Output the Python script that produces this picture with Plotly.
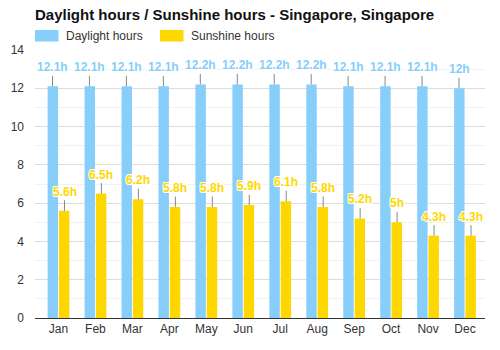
import plotly.graph_objects as go

months = ["Jan", "Feb", "Mar", "Apr", "May", "Jun", "Jul", "Aug", "Sep", "Oct", "Nov", "Dec"]
daylight = [12.1, 12.1, 12.1, 12.1, 12.2, 12.2, 12.2, 12.2, 12.1, 12.1, 12.1, 12.0]
sunshine = [5.6, 6.5, 6.2, 5.8, 5.8, 5.9, 6.1, 5.8, 5.2, 5.0, 4.3, 4.3]
y_ticks = [0, 2, 4, 6, 8, 10, 12, 14]

BLUE = "#87CEFA"
GOLD = "#FFD700"
FONT = "Arial, Liberation Sans, sans-serif"
SHADOW = "1px 1px 0 white, -1px -1px 0 white, 1px -1px 0 white, -1px 1px 0 white, 0 1px 0 white, 0 -1px 0 white, 1px 0 0 white, -1px 0 0 white"

fig = go.Figure()
fig.add_trace(go.Bar(x=months, y=daylight, name="Daylight hours", marker_color=BLUE,
                     marker_line_width=0, hoverinfo="skip"))
fig.add_trace(go.Bar(x=months, y=sunshine, name="Sunshine hours", marker_color=GOLD,
                     marker_line_width=0, hoverinfo="skip"))

def fmt(v):
    return ("%g" % v) + "h"

annotations = []
for series, color, shift in ((daylight, BLUE, -6), (sunshine, GOLD, 6)):
    for m, v in zip(months, series):
        annotations.append(dict(
            x=m, y=v, xref="x", yref="y", text=fmt(v), xshift=shift,
            showarrow=True, arrowhead=0, arrowwidth=1, arrowcolor="#888888",
            ax=0, ay=-19, standoff=0,
            font=dict(family=FONT, size=12, color=color, weight="bold", shadow=SHADOW),
        ))

# manual legend
L, R, T, B = 35, 485, 50, 318
W, H = R - L, B - T
def px(x):
    return (x - L) / W
def py(y):
    return (B - y) / H

shapes = []
legend_items = [("Daylight hours", BLUE, 35), ("Sunshine hours", GOLD, 160)]
for name, color, x0 in legend_items:
    shapes.append(dict(type="rect", xref="paper", yref="paper",
                       x0=px(x0), x1=px(x0 + 23.5), y0=py(41.5), y1=py(30),
                       fillcolor=color, line_width=0))
    annotations.append(dict(xref="paper", yref="paper", x=px(x0 + 29), y=py(36),
                            xanchor="left", yanchor="middle", showarrow=False, text=name,
                            font=dict(family=FONT, size=12, color="#333333")))

fig.update_layout(
    width=500, height=350,
    margin=dict(l=L, r=500 - R, t=T, b=350 - B),
    paper_bgcolor="white", plot_bgcolor="white",
    showlegend=False,
    barmode="group", bargap=0.387, bargroupgap=0.08,
    title=dict(text="<b>Daylight hours / Sunshine hours - Singapore, Singapore</b>",
               x=35 / 500, xanchor="left", xref="container",
               y=1 - 15 / 350, yanchor="middle", yref="container",
               font=dict(family=FONT, size=15, color="#111111")),
    font=dict(family=FONT, size=12, color="#333333"),
    xaxis=dict(showgrid=False, showline=True, linecolor="#333333", linewidth=1,
               ticks="", tickfont=dict(size=12, color="#333333"), fixedrange=True),
    yaxis=dict(range=[0, 14], tickvals=y_ticks,
               showgrid=True, gridcolor="#dddddd", gridwidth=1,
               minor=dict(dtick=1, showgrid=True, gridcolor="#f2f2f2", gridwidth=1),
               zeroline=False, ticks="", ticklabelstandoff=10,
               tickfont=dict(size=12, color="#333333"),
               fixedrange=True),
    annotations=annotations, shapes=shapes,
)

fig.write_html("out.html")
